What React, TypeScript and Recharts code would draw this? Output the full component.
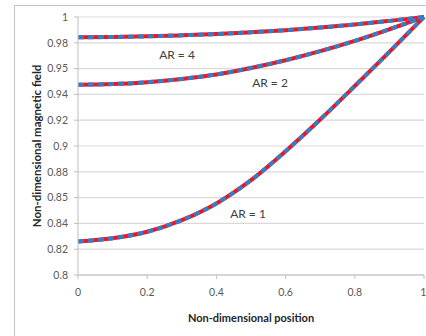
import React from 'react';
import { LineChart, Line, XAxis, YAxis, CartesianGrid } from 'recharts';

// Non-dimensional position along the sample
const positions = [0, 0.1, 0.2, 0.3, 0.4, 0.5, 0.6, 0.7, 0.8, 0.9, 1];

// Field profiles per aspect ratio
const ar1 = [0.826, 0.8285, 0.8335, 0.8425, 0.8555, 0.8735, 0.896, 0.9205, 0.9465, 0.973, 1];
const ar2 = [0.9475, 0.948, 0.9495, 0.952, 0.9555, 0.9605, 0.9665, 0.9735, 0.9815, 0.9905, 1];
const ar4 = [0.9843, 0.9845, 0.985, 0.9858, 0.9868, 0.9882, 0.9898, 0.9918, 0.9942, 0.997, 1];

const xTicks = [0, 0.2, 0.4, 0.6, 0.8, 1];
const xTickLabels = ['0', '0.2', '0.4', '0.6', '0.8', '1'];
const yTicks = [0.8, 0.82, 0.84, 0.86, 0.88, 0.9, 0.92, 0.94, 0.96, 0.98, 1];
const yTickLabels = ['0.8', '0.82', '0.84', '0.85', '0.88', '0.9', '0.92', '0.94', '0.95', '0.98', '1'];

const data = positions.map((x, i) => ({ x, ar1: ar1[i], ar2: ar2[i], ar4: ar4[i] }));

const font = 'Lato, "Open Sans", sans-serif';
const BLUE = '#3a7cc3';
const RED = '#f0141e';
const axisColor = '#bfbfbf';

export default function App() {
  const keys = ['ar1', 'ar2', 'ar4'];
  return (
    <div style={{ position: 'absolute', left: 0, top: 0, width: 426, height: 336, background: '#fff', overflow: 'hidden' }}>
      <div style={{ position: 'absolute', left: 14, top: 5, width: 500, height: 400, border: '1.5px solid #c4c4c4', boxSizing: 'border-box' }} />
      <LineChart
        width={426}
        height={336}
        data={data}
        margin={{ top: 17, right: 2, left: 0, bottom: 0 }}
        style={{ position: 'absolute', left: 0, top: 0, fontFamily: font }}
      >
        <CartesianGrid vertical={false} stroke="#d9d9d9" strokeWidth={1.2} />
        <XAxis
          dataKey="x"
          type="number"
          domain={[0, 1]}
          ticks={xTicks}
          tickFormatter={(v, i) => xTickLabels[i]}
          stroke={axisColor}
          tickSize={4}
          tickMargin={10}
          height={61}
          tick={{ fontSize: 10.5, fill: '#595959', fontFamily: font }}
        />
        <YAxis
          type="number"
          domain={[0.8, 1]}
          ticks={yTicks}
          tickFormatter={(v, i) => yTickLabels[i]}
          stroke={axisColor}
          tickSize={4}
          tickMargin={6}
          width={78}
          tick={{ fontSize: 10.5, fill: '#595959', fontFamily: font }}
        />
        {keys.map((k) => (
          <Line key={k + 'r'} type="monotone" dataKey={k} stroke={RED} strokeWidth={4} dot={false} isAnimationActive={false} />
        ))}
        {keys.map((k) => (
          <Line key={k + 'b'} type="monotone" dataKey={k} stroke={BLUE} strokeWidth={4} strokeDasharray="6 4" dot={false} isAnimationActive={false} />
        ))}
        <text x={177} y={59} textAnchor="middle" fontSize={12} fill="#404040" fontFamily={font}>AR = 4</text>
        <text x={270} y={87} textAnchor="middle" fontSize={12} fill="#404040" fontFamily={font}>AR = 2</text>
        <text x={248} y={218} textAnchor="middle" fontSize={12} fill="#404040" fontFamily={font}>AR = 1</text>
        <text x={251} y={322} textAnchor="middle" fontSize={11} fontWeight="bold" fill="#262626" fontFamily={font}>Non-dimensional position</text>
        <text x={41} y={146} textAnchor="middle" fontSize={11.5} fontWeight="bold" fill="#262626" fontFamily={font} transform="rotate(-90 41 146)">Non-dimensional magnetic field</text>
      </LineChart>
    </div>
  );
}
